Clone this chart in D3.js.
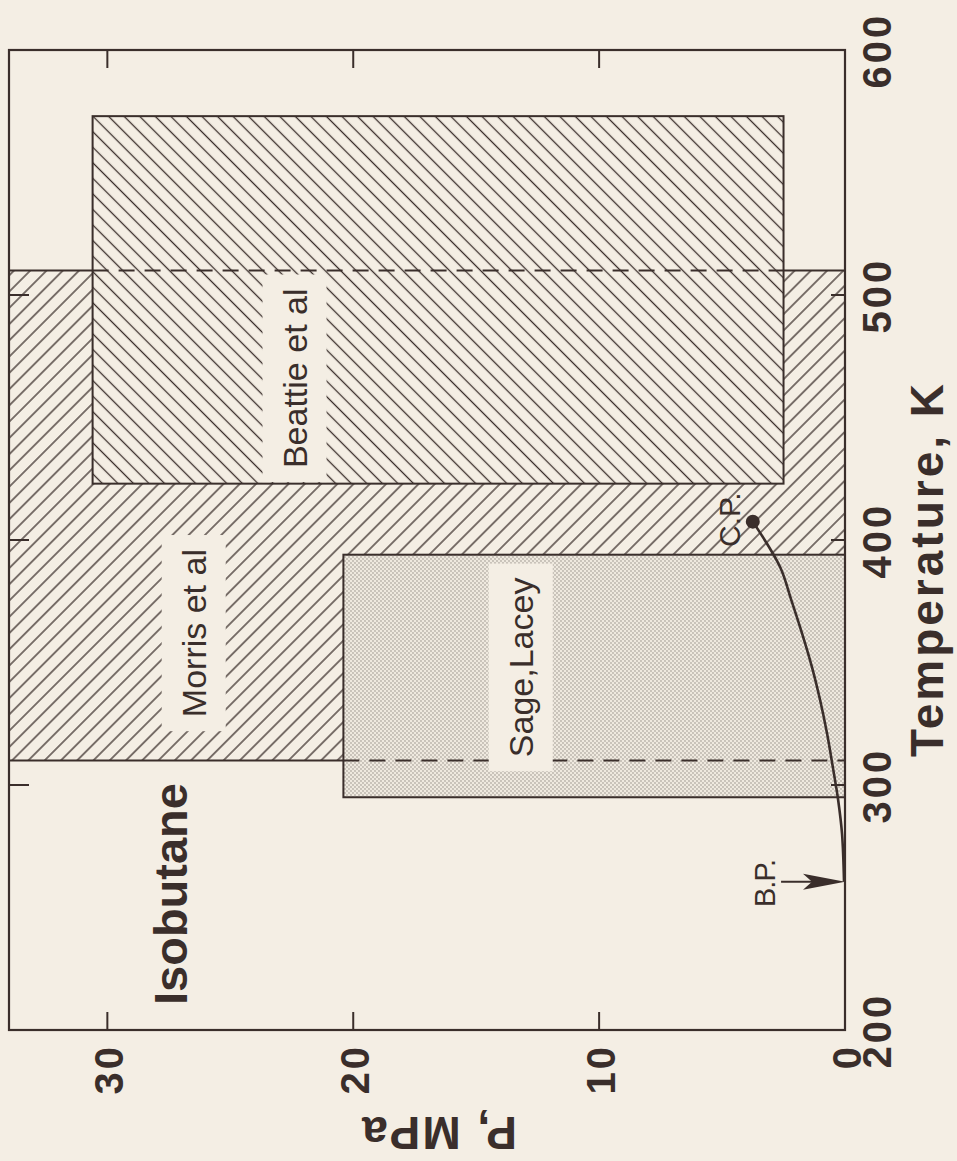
<!DOCTYPE html>
<html><head><meta charset="utf-8">
<script src="https://cdn.jsdelivr.net/npm/d3@7"></script>
<style>
html,body{margin:0;padding:0;background:#f4eee4;}
svg{display:block;}
</style></head><body>
<svg id="chart" width="957" height="1161"></svg>
<script>
// ---- data ----
const tempTicks = [200, 300, 400, 500, 600];
const presTicks = [0, 10, 20, 30];
const innerTempTicks = [300, 400, 500];
const innerPresTicks = [10, 20, 30];
const studyNames = ["Morris et al", "Beattie et al", "Sage,Lacey"];
const studyTmin = [310, 423, 295];
const studyTmax = [510, 573, 394];
const studyPmin = [0, 2.5, 0];
const studyPmax = [34, 30.6, 20.4];
const studyFill = ["hatchFwd", "hatchBack", "dots"];
const labelT = [362, 466, 348];
const labelP = [26.0, 21.9, 12.7];
const vaporT = [260.5, 280, 294, 307, 321, 335, 348, 362, 376, 389, 407.5];
const vaporP = [0.04, 0.12, 0.28, 0.49, 0.73, 1.02, 1.34, 1.75, 2.2, 2.64, 3.75];
const critPoint = [407.5, 3.75];
const boilT = 260.5;
const boilArrowP = [2.6, 0.0];

const ink = "#3a2e2b";
const bg = "#f4eee4";
const font = "'Liberation Sans', Arial, Helvetica, sans-serif";

const svg = d3.select("#chart");
// temperature runs bottom->top, pressure runs right->left (figure rotated)
const tScale = d3.scaleLinear().domain([200, 600]).range([1030, 50]);
const pScale = d3.scaleLinear().domain([0, 34]).range([845, 9]);

const defs = svg.append("defs");
function hatch(id, angle, gap) {
  const p = defs.append("pattern").attr("id", id).attr("patternUnits", "userSpaceOnUse")
    .attr("width", gap).attr("height", gap).attr("patternTransform", `rotate(${angle})`);
  p.append("rect").attr("width", gap).attr("height", gap).attr("fill", bg);
  p.append("line").attr("x1", gap / 2).attr("x2", gap / 2).attr("y1", -1).attr("y2", gap + 1)
    .attr("stroke", ink).attr("stroke-width", 1.3);
}
hatch("hatchFwd", 45, 11.5);
hatch("hatchBack", -45, 11);
const dp = defs.append("pattern").attr("id", "dots").attr("patternUnits", "userSpaceOnUse")
  .attr("width", 4).attr("height", 4);
dp.append("rect").attr("width", 4).attr("height", 4).attr("fill", "#efe9df");
dp.append("circle").attr("cx", 1).attr("cy", 1).attr("r", 0.65).attr("fill", "#857e77");
dp.append("circle").attr("cx", 3).attr("cy", 3).attr("r", 0.65).attr("fill", "#857e77");

const studies = studyNames.map((n, i) => ({
  name: n, t0: studyTmin[i], t1: studyTmax[i], p0: studyPmin[i], p1: studyPmax[i],
  fill: studyFill[i], lt: labelT[i], lp: labelP[i]
}));

// rectangles
svg.append("g").selectAll("rect").data(studies).join("rect")
  .attr("x", d => pScale(d.p1)).attr("y", d => tScale(d.t1))
  .attr("width", d => pScale(d.p0) - pScale(d.p1))
  .attr("height", d => tScale(d.t0) - tScale(d.t1))
  .attr("fill", d => `url(#${d.fill})`)
  .attr("stroke", ink).attr("stroke-width", 2);

// dashed continuation of Morris edges through overlapping boxes
const morris = studies[0], beattie = studies[1], sage = studies[2];
const dashed = [
  { t: morris.t1, pa: beattie.p0, pb: beattie.p1 },
  { t: morris.t0, pa: sage.p0, pb: sage.p1 }
];
svg.append("g").selectAll("line").data(dashed).join("line")
  .attr("x1", d => pScale(d.pb)).attr("x2", d => pScale(d.pa))
  .attr("y1", d => tScale(d.t)).attr("y2", d => tScale(d.t))
  .attr("stroke", ink).attr("stroke-width", 2).attr("stroke-dasharray", "16,10");

// study labels with background boxes
function addLabel(text, x, y, size, weight, boxPad, anchor, ls) {
  const g = svg.append("g").attr("transform", `translate(${x},${y}) rotate(-90)`);
  const t = g.append("text").text(text).attr("font-family", font).attr("font-size", size)
    .attr("font-weight", weight).attr("fill", ink).attr("text-anchor", anchor || "middle")
    .attr("letter-spacing", ls || 0);
  if (boxPad) {
    const b = t.node().getBBox();
    g.insert("rect", "text").attr("x", b.x - boxPad[0]).attr("y", b.y - boxPad[1])
      .attr("width", b.width + 2 * boxPad[0]).attr("height", b.height + 2 * boxPad[1])
      .attr("fill", bg);
  }
  return g;
}
studies.forEach(d => {
  addLabel(d.name, pScale(d.lp), tScale(d.lt), 34, "normal", [14, 13], "middle");
});

// vapour pressure curve
const vap = vaporT.map((t, i) => [t, vaporP[i]]);
svg.append("path").datum(vap)
  .attr("d", d3.line().x(d => pScale(d[1])).y(d => tScale(d[0])).curve(d3.curveCatmullRom))
  .attr("fill", "none").attr("stroke", ink).attr("stroke-width", 2.6);
svg.append("circle").attr("cx", pScale(critPoint[1])).attr("cy", tScale(critPoint[0]))
  .attr("r", 7).attr("fill", ink);

// boiling point arrow
const yb = tScale(boilT);
const xTail = pScale(boilArrowP[0]), xTip = pScale(boilArrowP[1]);
svg.append("line").attr("x1", xTail).attr("x2", xTip - 30).attr("y1", yb).attr("y2", yb)
  .attr("stroke", ink).attr("stroke-width", 2);
svg.append("path")
  .attr("d", `M${xTip},${yb} L${xTip - 42},${yb - 8} L${xTip - 33},${yb} L${xTip - 42},${yb + 8} Z`)
  .attr("fill", ink);

// frame + ticks
const ticks = svg.append("g").attr("stroke", ink).attr("stroke-width", 2);
ticks.selectAll(".tl").data(innerTempTicks).join("line").attr("class", "tl")
  .attr("x1", pScale(34)).attr("x2", pScale(34) + 20)
  .attr("y1", d => tScale(d)).attr("y2", d => tScale(d));
ticks.selectAll(".tr").data(innerTempTicks).join("line").attr("class", "tr")
  .attr("x1", pScale(0)).attr("x2", pScale(0) - 14)
  .attr("y1", d => tScale(d)).attr("y2", d => tScale(d));
ticks.selectAll(".pt").data(innerPresTicks).join("line").attr("class", "pt")
  .attr("x1", d => pScale(d)).attr("x2", d => pScale(d))
  .attr("y1", tScale(600)).attr("y2", tScale(600) + 18);
ticks.selectAll(".pb").data(innerPresTicks).join("line").attr("class", "pb")
  .attr("x1", d => pScale(d)).attr("x2", d => pScale(d))
  .attr("y1", tScale(200)).attr("y2", tScale(200) - 18);
svg.append("rect").attr("x", pScale(34)).attr("y", tScale(600))
  .attr("width", pScale(0) - pScale(34)).attr("height", tScale(200) - tScale(600))
  .attr("fill", "none").attr("stroke", ink).attr("stroke-width", 2.2);

// axes (tick labels)
const tAxis = svg.append("g").attr("transform", `translate(${pScale(0)},0)`)
  .call(d3.axisRight(tScale).tickValues(tempTicks).tickSize(0).tickFormat(d3.format("d")));
tAxis.select(".domain").remove();
tAxis.selectAll("text").attr("x", 0).attr("dy", 0).attr("text-anchor", "middle")
  .attr("transform", "translate(46,0) rotate(-90)")
  .attr("font-family", font).attr("font-size", 40).attr("font-weight", "bold")
  .attr("letter-spacing", 3).attr("fill", ink);
const pAxis = svg.append("g").attr("transform", `translate(0,${tScale(200)})`)
  .call(d3.axisBottom(pScale).tickValues(presTicks).tickSize(0).tickFormat(d3.format("d")));
pAxis.select(".domain").remove();
pAxis.selectAll("text").attr("y", 0).attr("dy", 0).attr("text-anchor", "end")
  .attr("transform", "translate(15,14) rotate(-90)")
  .attr("font-family", font).attr("font-size", 40).attr("font-weight", "bold")
  .attr("letter-spacing", 3).attr("fill", ink);

// axis titles
addLabel("Temperature, K", 943, 757, 46, "bold", null, "start", 3);
svg.append("text").text("P, MPa")
  .attr("transform", `translate(517,1117) rotate(180)`)
  .attr("font-family", font).attr("font-size", 46).attr("font-weight", "bold")
  .attr("letter-spacing", 2).attr("fill", ink);

// annotations
addLabel("Isobutane", 187, 1005, 47, "bold", null, "start", 0);
addLabel("C.P.", 740, 547, 30, "normal", null, "start", 0);
addLabel("B.P.", 775, 907, 29, "normal", null, "start", -1);
</script>
</body></html>
